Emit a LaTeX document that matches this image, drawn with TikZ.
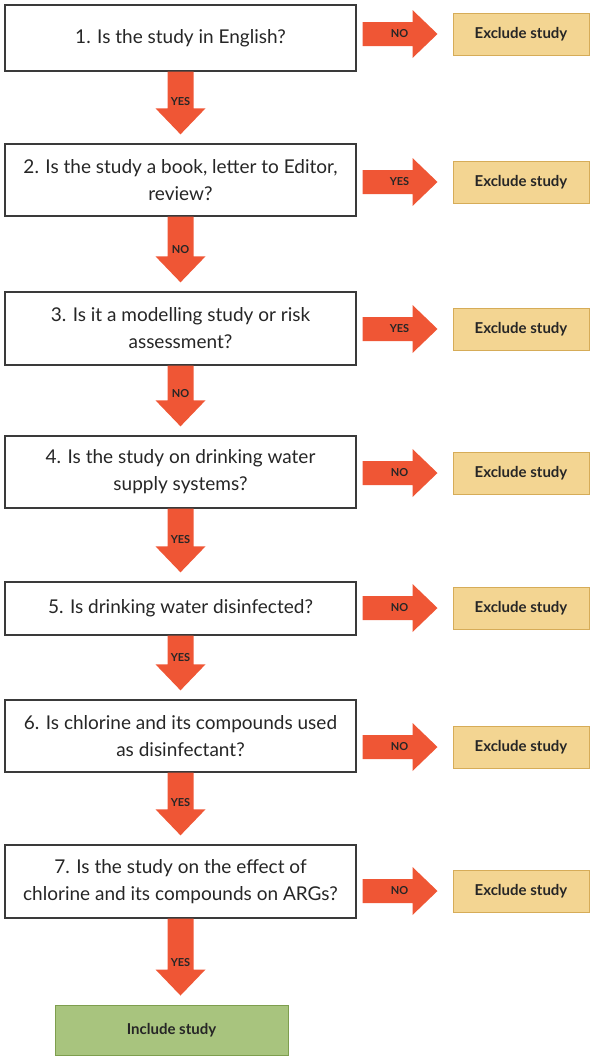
\documentclass[tikz,border=0pt]{standalone}
\usepackage{fontspec}
\setmainfont{Lato}
\usetikzlibrary{calc}
\definecolor{arrowc}{HTML}{EF5635}
\definecolor{exfill}{HTML}{F3D592}
\definecolor{exdraw}{HTML}{D6AC58}
\definecolor{infill}{HTML}{A8C47E}
\definecolor{indraw}{HTML}{7E9E4E}
\definecolor{qdraw}{HTML}{3A3A3A}
\definecolor{txt}{HTML}{262626}
\newcommand\rarr[3]{%
  \coordinate (ra) at (#1.east |- #2.west);
  \coordinate (rb) at (#2.west);
  \fill[arrowc] ($(ra)+(6,-12)$) -- ($(rb)+(-40,-12)$) -- ($(rb)+(-40,-24)$) -- ($(rb)+(-15,0)$)
     -- ($(rb)+(-40,24)$) -- ($(rb)+(-40,12)$) -- ($(ra)+(6,12)$) -- cycle;
  \node[lbl] at ($(rb)+(-53,0)$) {#3};}
\newcommand\darr[3]{%
  \coordinate (da) at (#1.south);
  \coordinate (db) at (#1.south |- #2.north);
  \fill[arrowc] ($(da)+(-13,0)$) -- ($(db)+(-13,-35)$) -- ($(db)+(-25,-35)$) -- ($(db)+(0,-9)$)
     -- ($(db)+(25,-35)$) -- ($(db)+(13,-35)$) -- ($(da)+(13,0)$) -- cycle;
  \node[lbl] at ($(db)+(0,-42)$) {#3};}
\begin{document}
\begin{tikzpicture}[x=1pt,y=-1pt,
  qbox/.style={draw=qdraw,line width=1.3pt,fill=white,minimum width=351pt,align=center,
    inner sep=0pt,text=txt,font=\fontsize{19}{27}\selectfont},
  exbox/.style={draw=exdraw,line width=1pt,fill=exfill,minimum width=136pt,minimum height=42pt,
    inner sep=0pt,text=txt,font=\fontsize{15}{17}\selectfont\bfseries},
  inbox/.style={draw=indraw,line width=1pt,fill=infill,minimum width=233pt,minimum height=50pt,
    inner sep=0pt,text=txt,font=\fontsize{15}{17}\selectfont\bfseries},
  lbl/.style={text=txt,inner sep=0pt,font=\fontsize{11}{13}\selectfont\bfseries}]
\useasboundingbox (0,0) rectangle (597,1063);
\node[qbox,minimum height=66pt] (q1) at (180.5,38) {1. Is the study in English?};
\node[qbox,minimum height=72pt] (q2) at (180.5,180) {2. Is the study a book, letter to Editor,\\review?};
\node[qbox,minimum height=73pt] (q3) at (180.5,328.5) {3. Is it a modelling study or risk\\assessment?};
\node[qbox,minimum height=72pt] (q4) at (180.5,472) {4. Is the study on drinking water\\supply systems?};
\node[qbox,minimum height=53pt] (q5) at (180.5,608.5) {5. Is drinking water disinfected?};
\node[qbox,minimum height=72pt] (q6) at (180.5,736) {6. Is chlorine and its compounds used\\as disinfectant?};
\node[qbox,minimum height=73pt] (q7) at (180.5,881.5) {7. Is the study on the effect of\\chlorine and its compounds on ARGs?};
\node[inbox] (inc) at (171.5,1030) {Include study};
\node[exbox] (e1) at (521,34) {Exclude study};
\node[exbox] (e2) at (521,182) {Exclude study};
\node[exbox] (e3) at (521,329) {Exclude study};
\node[exbox] (e4) at (521,473) {Exclude study};
\node[exbox] (e5) at (521,608) {Exclude study};
\node[exbox] (e6) at (521,747) {Exclude study};
\node[exbox] (e7) at (521,891) {Exclude study};
\rarr{q1}{e1}{NO}
\rarr{q2}{e2}{YES}
\rarr{q3}{e3}{YES}
\rarr{q4}{e4}{NO}
\rarr{q5}{e5}{NO}
\rarr{q6}{e6}{NO}
\rarr{q7}{e7}{NO}
\darr{q1}{q2}{YES}
\darr{q2}{q3}{NO}
\darr{q3}{q4}{NO}
\darr{q4}{q5}{YES}
\darr{q5}{q6}{YES}
\darr{q6}{q7}{YES}
\darr{q7}{inc}{YES}
\end{tikzpicture}
\end{document}
